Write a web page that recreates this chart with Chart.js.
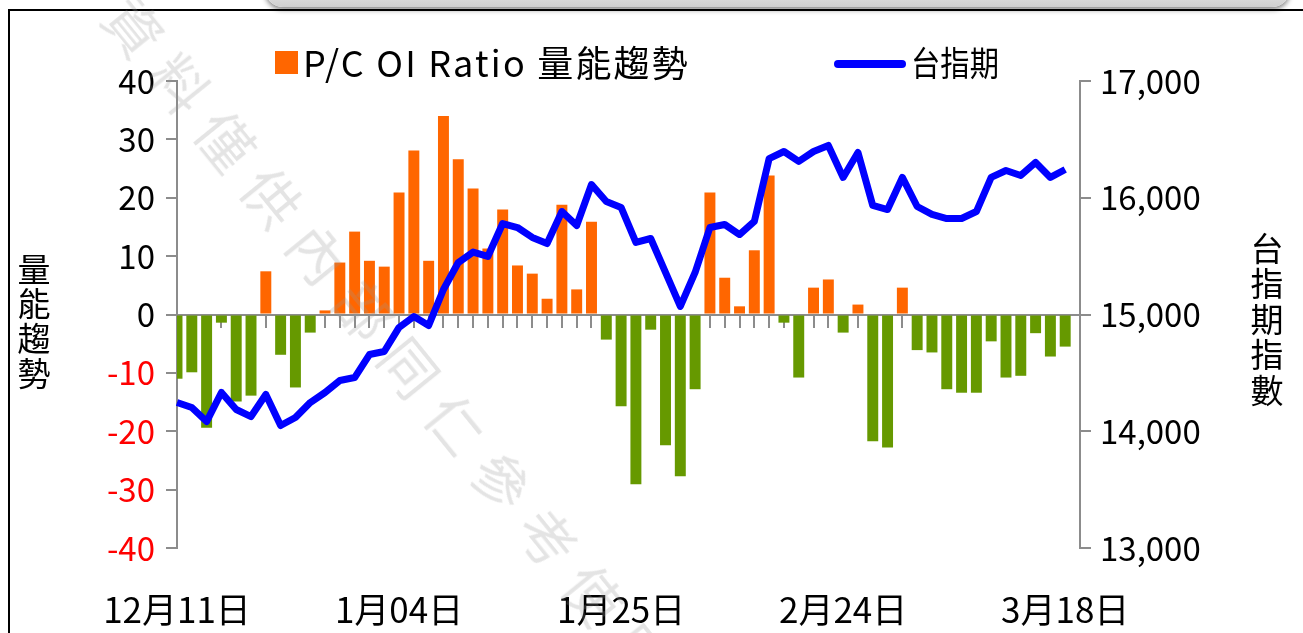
<!DOCTYPE html>
<html>
<head>
<meta charset="utf-8">
<script src="https://cdn.jsdelivr.net/npm/chart.js@4.4.1/dist/chart.umd.min.js"></script>
<style>
  html, body { margin: 0; padding: 0; background: #fff; overflow: hidden; }
  #wrap { position: relative; width: 1303px; height: 633px; overflow: hidden; }
  #frame { position: absolute; left: 8px; top: 9px; width: 1400px; height: 700px; border: 2px solid #000; }
  #shade { position: absolute; left: 265px; top: -30px; width: 1025px; height: 37px; border-radius: 0 0 18px 18px;
           background: linear-gradient(#fff, #cfcfcf); box-shadow: 0 3px 5px rgba(0,0,0,0.45); }
  #chart { position: absolute; left: 0; top: 0; }
  #mark { position: absolute; left: 150px; top: -22px; transform-origin: 0 0; transform: rotate(51deg);
          font: 56px "Noto Sans CJK TC"; letter-spacing: 17px; color: rgba(150,150,150,0.26);
          white-space: nowrap; pointer-events: none; }
</style>
</head>
<body>
<div id="wrap">
  <div id="frame"></div>
  <div id="shade"></div>
  <canvas id="chart" width="1303" height="633"></canvas>
  <div id="mark">資料僅供內部同仁參考使用</div>
</div>
<script>
// ==== Data ====
const tickLabels = ['12月11日', '1月04日', '1月25日', '2月24日', '3月18日'];
const tickEvery = 15;

// P/C OI Ratio 量能趨勢 (left axis)
const pcRatio = [
  -11.0, -9.9, -19.4, -1.4, -14.9, -13.9, 7.4, -6.9, -12.5, -3.1,
  0.7, 8.9, 14.2, 9.2, 8.2, 20.9, 28.1, 9.2, 34.0, 26.6,
  21.6, 11.3, 18.0, 8.4, 7.0, 2.7, 18.8, 4.3, 15.9, -4.3,
  -15.7, -29.1, -2.6, -22.4, -27.7, -12.8, 20.9, 6.3, 1.4, 11.0,
  23.8, -1.4, -10.8, 4.6, 6.0, -3.1, 1.7, -21.7, -22.8, 4.6,
  -6.1, -6.5, -12.8, -13.4, -13.4, -4.6, -10.8, -10.5, -3.2, -7.2, -5.5
];

// 台指期 (right axis)
const taiex = [
  14246, 14203, 14083, 14332, 14186, 14126, 14315, 14049, 14118, 14246,
  14332, 14435, 14460, 14657, 14683, 14889, 14983, 14906, 15214, 15445,
  15535, 15497, 15779, 15745, 15660, 15608, 15882, 15762, 16113, 15968,
  15917, 15617, 15651, 15360, 15069, 15360, 15745, 15771, 15685, 15797,
  16335, 16396, 16311, 16396, 16448, 16174, 16388, 15934, 15899, 16174,
  15925, 15857, 15822, 15822, 15882, 16174, 16233, 16191, 16302, 16174, 16242
];

const legendBar = 'P/C OI Ratio 量能趨勢';
const legendLine = '台指期';
const leftTitle = '量能趨勢';
const rightTitle = '台指期指數';

const barUp = '#FF6600';
const barDown = '#669900';
const lineColor = '#0000FF';
const axisGray = '#8c8c8c';
const CJK = '"Noto Sans CJK TC", "Noto Sans", sans-serif';

// one slot per trading day plus an empty one at the right edge
const labels = [];
for (let i = 0; i <= pcRatio.length; i++) {
  labels.push(i % tickEvery === 0 && tickLabels[i / tickEvery] ? tickLabels[i / tickEvery] : '');
}

// ==== Legend + vertical axis titles ====
const overlayText = {
  id: 'overlayText',
  afterDraw(chart) {
    const ctx = chart.ctx;
    ctx.save();
    ctx.font = '36px ' + CJK;
    ctx.textBaseline = 'middle';

    ctx.fillStyle = barUp;
    ctx.fillRect(275, 51, 23, 23);
    ctx.fillStyle = '#000';
    // Excel font runs wider than Noto, so spread the letters a bit
    const w0 = ctx.measureText(legendBar).width;
    ctx.letterSpacing = Math.max(0, (387 - w0) / legendBar.length) + 'px';
    ctx.fillText(legendBar, 303, 63);
    ctx.letterSpacing = '0px';

    ctx.strokeStyle = lineColor;
    ctx.lineWidth = 8;
    ctx.lineCap = 'round';
    ctx.beginPath();
    ctx.moveTo(838, 64);
    ctx.lineTo(902, 64);
    ctx.stroke();
    ctx.font = '34px ' + CJK;
    ctx.fillText(legendLine, 911, 63, 88);

    ctx.font = '33px ' + CJK;
    ctx.textAlign = 'center';
    [...leftTitle].forEach((ch, i) => ctx.fillText(ch, 34, 269 + i * 34.7));
    [...rightTitle].forEach((ch, i) => ctx.fillText(ch, 1267, 248 + i * 35.5));
    ctx.restore();
  }
};

const ctx = document.getElementById('chart').getContext('2d');
new Chart(ctx, {
  type: 'bar',
  data: {
    labels,
    datasets: [
      {
        type: 'line',
        label: legendLine,
        data: taiex,
        yAxisID: 'y1',
        xAxisID: 'x',
        borderColor: lineColor,
        borderWidth: 7,
        pointRadius: 0,
        tension: 0,
        borderJoinStyle: 'round',
        order: 0
      },
      {
        type: 'bar',
        label: legendBar,
        data: pcRatio,
        yAxisID: 'y',
        xAxisID: 'x',
        backgroundColor: c => (c.raw >= 0 ? barUp : barDown),
        borderWidth: 0,
        barPercentage: 0.74,
        categoryPercentage: 1.0,
        order: 1
      }
    ]
  },
  options: {
    responsive: false,
    animation: false,
    devicePixelRatio: 1,
    layout: { padding: { top: 81, left: 0, right: 0, bottom: 0 } },
    plugins: {
      legend: { display: false },
      title: { display: false },
      tooltip: { enabled: false }
    },
    scales: {
      x: {
        type: 'category',
        position: 'bottom',
        offset: false,
        grid: { display: false, offset: false },
        border: { display: false },
        ticks: {
          autoSkip: false,
          maxRotation: 0,
          padding: 33,
          color: '#000',
          font: { family: CJK, size: 35 }
        },
        afterFit: s => { s.height = 85; }
      },
      x0: {
        type: 'category',
        position: { y: 0 },
        offset: false,
        z: 1,
        grid: { drawOnChartArea: false, drawTicks: true, tickLength: 12, color: axisGray, lineWidth: 2, offset: false },
        border: { color: axisGray, width: 2 },
        ticks: { display: false }
      },
      y: {
        position: 'left',
        min: -40,
        max: 40,
        grid: { drawOnChartArea: false, tickLength: 11, color: axisGray, lineWidth: 2 },
        border: { color: axisGray, width: 2 },
        ticks: {
          stepSize: 10,
          padding: 11,
          color: c => (c.tick.value < 0 ? '#FF0000' : '#000'),
          font: { family: CJK, size: 33 }
        },
        afterFit: s => { s.width = 177; }
      },
      y1: {
        position: 'right',
        min: 13000,
        max: 17000,
        grid: { drawOnChartArea: false, tickLength: 11, color: axisGray, lineWidth: 2 },
        border: { color: axisGray, width: 2 },
        ticks: {
          stepSize: 1000,
          padding: 9,
          color: '#000',
          font: { family: CJK, size: 33 },
          callback: v => v.toLocaleString('en-US')
        },
        afterFit: s => { s.width = 223; }
      }
    }
  },
  plugins: [overlayText]
});
</script>
</body>
</html>
